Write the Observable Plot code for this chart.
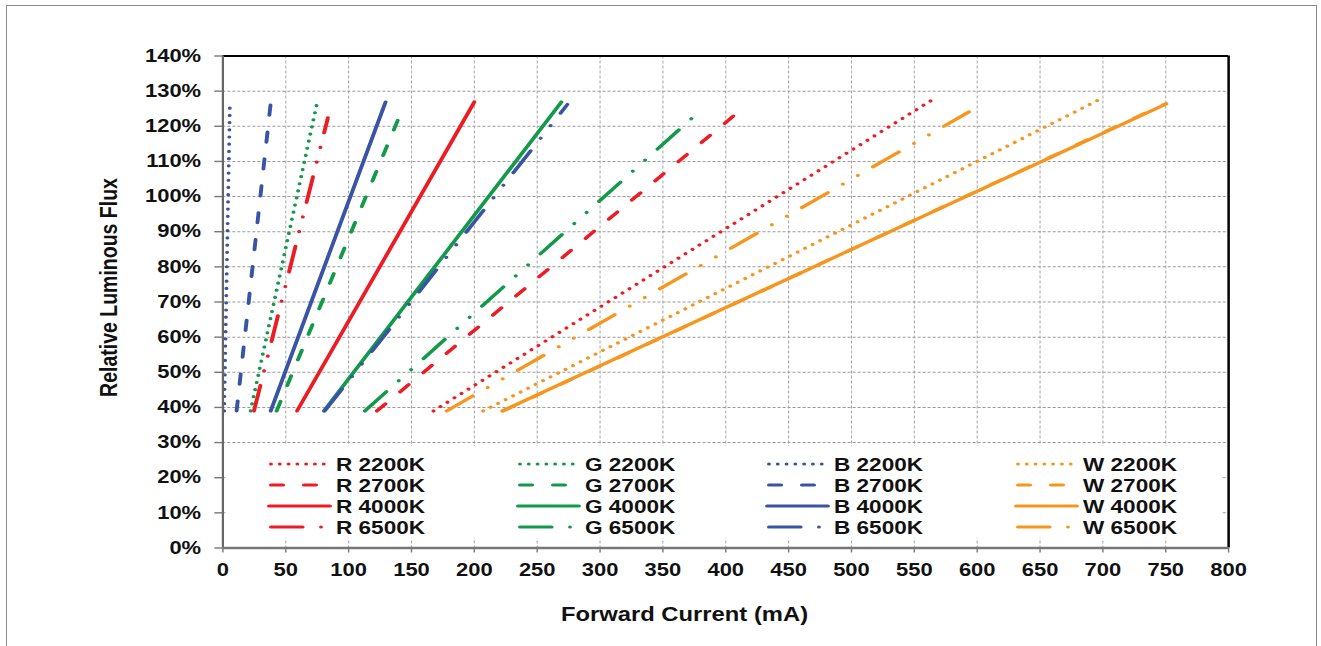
<!DOCTYPE html>
<html>
<head>
<meta charset="utf-8">
<script src="https://cdn.jsdelivr.net/npm/d3@7"></script>
<script src="https://cdn.jsdelivr.net/npm/@observablehq/plot@0.6"></script>
<style>
html, body { margin: 0; padding: 0; background: #fff; width: 1321px; height: 646px; overflow: hidden; }
#chart { position: absolute; left: 0; top: 0; }
#frame { position: absolute; left: 6px; top: 5px; width: 1311px; height: 700px; border: 1.5px solid #8a8a8a; box-sizing: border-box; pointer-events: none; }
</style>
</head>
<body>
<div id="chart"></div>
<div id="frame"></div>
<script>
// ---- data ----
const seriesNames = ["R 2200K", "R 2700K", "R 4000K", "R 6500K",
                     "G 2200K", "G 2700K", "G 4000K", "G 6500K",
                     "B 2200K", "B 2700K", "B 4000K", "B 6500K",
                     "W 2200K", "W 2700K", "W 4000K", "W 6500K"];
const seriesColorKey = ["R","R","R","R","G","G","G","G","B","B","B","B","W","W","W","W"];
const seriesStyle = ["dot","dash","solid","dashdotdot","dot","dash","solid","dashdotdot",
                     "dot","dash","solid","dashdotdot","dot","dash","solid","dashdotdot"];
// forward current (mA) at the low and high end of each line
const currentLow  = [167.5, 122.5, 59.0, 24.7, 22.0, 42.7, 80.4, 113.0, 1.0, 10.9, 38.0, 81.0, 207.0, 223.0, 222.3, 178.0];
const currentHigh = [565.5, 411.5, 200.0, 83.5, 75.6, 141.4, 269.2, 378.7, 5.6, 37.9, 129.4, 274.0, 697.7, 749.0, 750.5, 593.5];
// relative luminous flux (%) at the low and high end of each line
const fluxLow  = [39, 39, 39, 39, 39, 39, 39, 39, 39, 39, 39, 39, 39, 39, 39, 39];
const fluxHigh = [127.8, 124.5, 126.9, 122.4, 127.8, 123.7, 126.9, 124.1, 127.1, 126.2, 126.9, 126.2, 127.7, 126.3, 126.4, 124.1];
const xTickValues = [0, 50, 100, 150, 200, 250, 300, 350, 400, 450, 500, 550, 600, 650, 700, 750, 800];
const yTickValues = [0, 10, 20, 30, 40, 50, 60, 70, 80, 90, 100, 110, 120, 130, 140];
const xTitle = "Forward Current (mA)";
const yTitle = "Relative Luminous Flux";

// ---- styling ----
const colorMap = {R: "#ed1c24", G: "#12994a", B: "#3a54a4", W: "#f7961e"};
const dashMap = {solid: null, dot: "0.01,7.2", dash: "10,17", dashdotdot: "26,15,0.01,15,0.01,15"};
const LW = 3.2;
const S = 1.22;               // horizontal stretch of the reference image
const W = 1321 / S, H = 646;
const px = v => v / S;
const FONT = "'Liberation Sans', Arial, Helvetica, sans-serif";

const rows = [];
seriesNames.forEach((name, i) => {
  rows.push({series: name, current: currentLow[i], flux: fluxLow[i]});
  rows.push({series: name, current: currentHigh[i], flux: fluxHigh[i]});
});

const lineMarks = seriesNames.map((name, i) => Plot.line(rows.filter(r => r.series === name), {
  x: "current", y: "flux",
  stroke: colorMap[seriesColorKey[i]],
  strokeWidth: LW,
  strokeLinecap: "round",
  strokeLinejoin: "round",
  strokeDasharray: dashMap[seriesStyle[i]] || undefined
}));

const plot = Plot.plot({
  width: W, height: H,
  marginLeft: px(222.3), marginRight: W - px(1228), marginTop: 55.5, marginBottom: H - 547.5,
  x: {domain: [0, 800]},
  y: {domain: [0, 140]},
  style: {fontFamily: FONT, fontWeight: "bold", fontSize: "18px", color: "#111", background: "transparent", overflow: "visible"},
  marks: [
    Plot.gridX(xTickValues.filter(v => v > 0 && v < 800), {stroke: "#9a9a9a", strokeOpacity: 1, strokeWidth: 1 / S, strokeDasharray: "3,2"}),
    Plot.gridY(yTickValues.filter(v => v > 0 && v < 140), {stroke: "#9a9a9a", strokeOpacity: 1, strokeWidth: 1, strokeDasharray: "2.5,1.6"}),
    ...lineMarks,
    Plot.ruleX([800], {stroke: "#000", strokeWidth: 2.5 / S}),
    Plot.ruleY([140], {stroke: "#000", strokeWidth: 2}),
    Plot.ruleX([0], {stroke: "#666", strokeWidth: 2.2 / S}),
    Plot.ruleY([0], {stroke: "#777", strokeWidth: 2.5}),
    Plot.axisX(xTickValues, {tickSize: 5, tickPadding: 10.5, stroke: "#777", strokeWidth: 1.4 / S, fill: "#111", fontSize: 18, fontWeight: "bold", label: null}),
    Plot.axisY(yTickValues, {tickSize: px(8), tickPadding: px(21.8) - px(8), stroke: "#777", strokeWidth: 1.4, fill: "#111", fontSize: 18, fontWeight: "bold", tickFormat: d => d + "%", label: null})
  ]
});

plot.setAttribute("width", 1321);
plot.setAttribute("height", 646);
plot.setAttribute("preserveAspectRatio", "none");
plot.style.maxWidth = "none";
plot.style.width = "1321px";
plot.style.height = "646px";

const svg = d3.select(plot);

// axis titles
svg.append("text")
  .attr("x", px(684.5)).attr("y", 620.7)
  .attr("text-anchor", "middle")
  .attr("font-family", FONT).attr("font-weight", "bold").attr("font-size", 19.5).attr("fill", "#111")
  .text(xTitle);
svg.append("text")
  .attr("transform", `translate(${px(108.5)},287.5) rotate(-90)`)
  .attr("text-anchor", "middle").attr("dy", "0.36em")
  .attr("font-family", FONT).attr("font-weight", "bold").attr("font-size", 19.5).attr("fill", "#111")
  .text(yTitle);

// legend (inside plot area, white box hides grid lines)
const lg = svg.append("g").attr("text-anchor", "start");
lg.append("rect")
  .attr("x", px(226)).attr("y", 446)
  .attr("width", px(1221) - px(226)).attr("height", 92)
  .attr("fill", "#fff");
seriesNames.forEach((name, i) => {
  const col = Math.floor(i / 4), row = i % 4;
  const x1 = px(269 + col * 249), x2 = px(330 + col * 249);
  const y = 464 + row * 21;
  const cap = seriesStyle[i] === "solid" ? 0 : LW / 2;
  const ln = lg.append("line")
    .attr("x1", x1 + cap).attr("x2", x2).attr("y1", y).attr("y2", y)
    .attr("stroke", colorMap[seriesColorKey[i]])
    .attr("stroke-width", LW)
    .attr("stroke-linecap", "round");
  if (dashMap[seriesStyle[i]]) ln.attr("stroke-dasharray", dashMap[seriesStyle[i]]);
  lg.append("text")
    .attr("x", px(336 + col * 249)).attr("y", 470.7 + row * 21)
    .attr("text-anchor", "start")
    .attr("font-family", FONT).attr("font-weight", "bold").attr("font-size", 18.5).attr("fill", "#111")
    .text(name);
});

document.getElementById("chart").appendChild(plot);
</script>
</body>
</html>
